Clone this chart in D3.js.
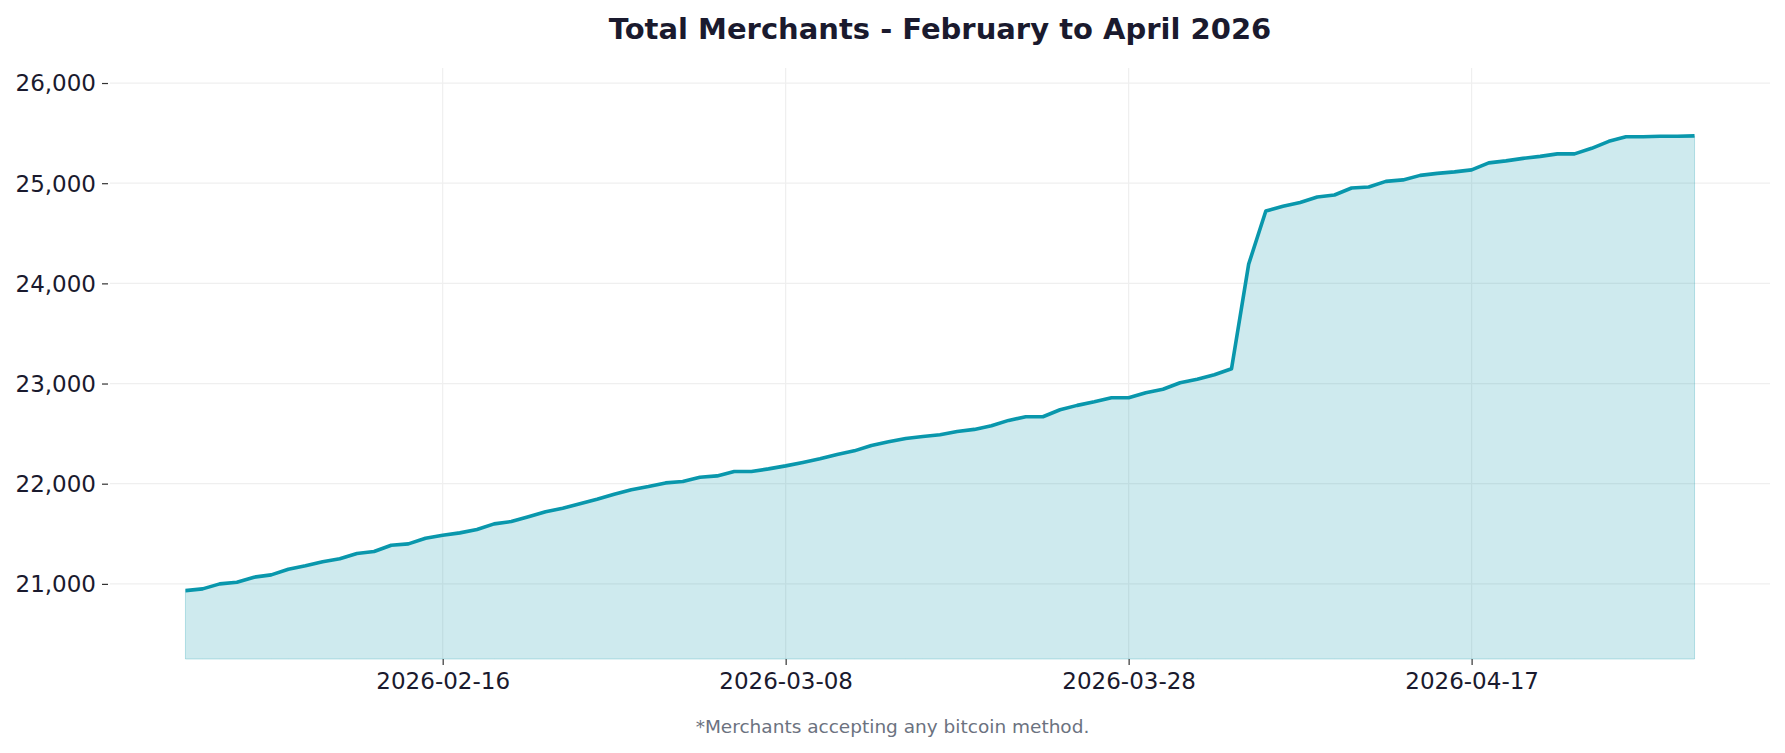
<!DOCTYPE html>
<html>
<head>
<meta charset="utf-8">
<script src="https://cdn.jsdelivr.net/npm/d3@7"></script>
<style>
  html, body { margin: 0; padding: 0; background: #ffffff; }
  svg { display: block; font-family: "DejaVu Sans", sans-serif; }
</style>
</head>
<body>
<svg id="chart" width="1785" height="753"></svg>
<script>
// daily totals, 2026-02-01 .. 2026-04-30
const startDate = "2026-02-01";
const endDate = "2026-04-30";
const merchants = [
  20933, 20950, 21000, 21017, 21067, 21090, 21146, 21180, 21220, 21250,
  21303, 21323, 21386, 21399, 21456, 21486, 21509, 21542, 21599, 21622,
  21670, 21720, 21755, 21800, 21845, 21895, 21940, 21972, 22008, 22022,
  22065, 22078, 22122, 22122, 22148, 22178, 22212, 22248, 22292, 22328,
  22382, 22418, 22452, 22472, 22488, 22522, 22542, 22578, 22632, 22668,
  22668, 22738, 22782, 22818, 22858, 22858, 22908, 22943, 23008, 23043,
  23088, 23148, 24192, 24722, 24770, 24808, 24862, 24882, 24952, 24962,
  25018, 25033, 25078, 25098, 25113, 25133, 25203, 25223, 25248, 25268,
  25293, 25293, 25348, 25418, 25463, 25463, 25468, 25468, 25472
];
const xTickLabels = ["2026-02-16", "2026-03-08", "2026-03-28", "2026-04-17"];
const yTicks = [21000, 22000, 23000, 24000, 25000, 26000];
const title = "Total Merchants - February to April 2026";
const footnote = "*Merchants accepting any bitcoin method.";

const parse = d3.utcParse("%Y-%m-%d");
const dates = d3.utcDay.range(parse(startDate), d3.utcDay.offset(parse(endDate), 1));
const data = dates.map((d, i) => ({ date: d, value: merchants[i] }));

const svg = d3.select("#chart");
const margin = { top: 68, right: 15, bottom: 94, left: 110 };
const width = 1785 - margin.left - margin.right;
const height = 753 - margin.top - margin.bottom;

const lineColor = "#0997ac";
const inkColor = "#1a1a2e";

// 5% padding on x like matplotlib
const pad = 4.4 * 24 * 3600 * 1000;
const x = d3.scaleUtc()
  .domain([+dates[0] - pad, +dates[dates.length - 1] + pad])
  .range([0, width]);
const y = d3.scaleLinear().domain([20250, 26150]).range([height, 0]);

const g = svg.append("g").attr("transform", `translate(${margin.left},${margin.top})`);

// grid
g.append("g")
  .selectAll("line")
  .data(yTicks)
  .enter()
  .append("line")
  .attr("x1", 0)
  .attr("x2", width)
  .attr("y1", d => y(d))
  .attr("y2", d => y(d))
  .attr("stroke", "#efefef")
  .attr("stroke-width", 1.2);

const xTickDates = xTickLabels.map(parse);
g.append("g")
  .selectAll("line")
  .data(xTickDates)
  .enter()
  .append("line")
  .attr("x1", d => x(d))
  .attr("x2", d => x(d))
  .attr("y1", 0)
  .attr("y2", height)
  .attr("stroke", "#efefef")
  .attr("stroke-width", 1.2);

// area + line
const area = d3.area()
  .x(d => x(d.date))
  .y0(height)
  .y1(d => y(d.value));

g.append("path")
  .datum(data)
  .attr("d", area)
  .attr("fill", lineColor)
  .attr("fill-opacity", 0.2)
  .attr("stroke", lineColor)
  .attr("stroke-opacity", 0.25)
  .attr("stroke-width", 1);

const line = d3.line()
  .x(d => x(d.date))
  .y(d => y(d.value));

g.append("path")
  .datum(data)
  .attr("d", line)
  .attr("fill", "none")
  .attr("stroke", lineColor)
  .attr("stroke-width", 3.6)
  .attr("stroke-linejoin", "round");

// axes
const xAxis = g.append("g")
  .attr("transform", `translate(0,${height})`)
  .call(d3.axisBottom(x)
    .tickValues(xTickDates)
    .tickFormat(d3.utcFormat("%Y-%m-%d"))
    .tickSize(6)
    .tickPadding(8));

const yAxis = g.append("g")
  .call(d3.axisLeft(y)
    .tickValues(yTicks)
    .tickFormat(d3.format(","))
    .tickSize(6)
    .tickPadding(8));

[xAxis, yAxis].forEach(ax => {
  ax.select(".domain").remove();
  ax.selectAll(".tick line").attr("stroke", "#333").attr("stroke-width", 1.2);
  ax.selectAll(".tick text")
    .attr("fill", inkColor)
    .style("font-family", "DejaVu Sans")
    .style("font-size", "23px");
});
yAxis.selectAll(".tick line").attr("transform", "translate(-2,0)");
yAxis.selectAll(".tick text").attr("dy", "0.34em");

// title
svg.append("text")
  .attr("x", margin.left + width / 2)
  .attr("y", 39)
  .attr("text-anchor", "middle")
  .attr("fill", inkColor)
  .style("font-size", "29px")
  .style("font-weight", "bold")
  .text(title);

// footnote
svg.append("text")
  .attr("x", 1785 / 2)
  .attr("y", 733)
  .attr("text-anchor", "middle")
  .attr("fill", "#6b7280")
  .style("font-size", "18.5px")
  .text(footnote);
</script>
</body>
</html>
